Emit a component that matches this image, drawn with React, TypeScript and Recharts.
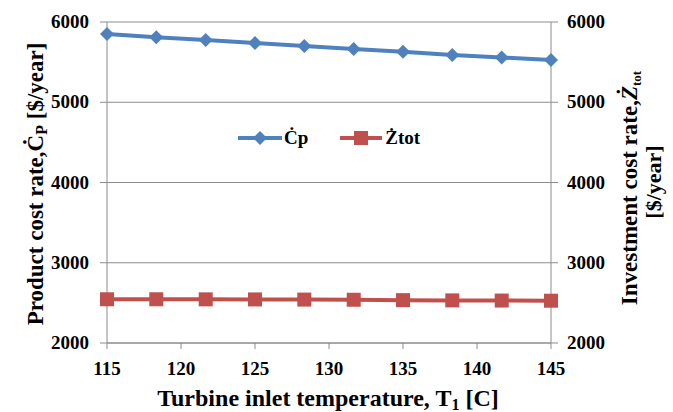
import React from 'react';
import { LineChart, Line, XAxis, YAxis, CartesianGrid, Legend } from 'recharts';

// turbine inlet temperature T1 [C], 10 runs
const temperatures = [115, 118.33, 121.67, 125, 128.33, 131.67, 135, 138.33, 141.67, 145];
// product cost rate Cp [$/year]
const productCost = [5850, 5810, 5775, 5737, 5700, 5665, 5628, 5590, 5558, 5525];
// investment cost rate Ztot [$/year]
const investmentCost = [2545, 2545, 2544, 2543, 2541, 2539, 2534, 2531, 2529, 2527];

const xTicks = [115, 120, 125, 130, 135, 140, 145];
const yTicks = [2000, 3000, 4000, 5000, 6000];

const data = temperatures.map((t, i) => ({ t, cp: productCost[i], ztot: investmentCost[i] }));

const FONT = "'Liberation Serif'";
const BLUE = '#4F81BD';
const RED = '#C0504D';
const AXIS = '#8C8C8C';

const txt = { fontFamily: FONT, fontWeight: 700 };

const Diamond = (props: any) => {
  const { cx, cy } = props;
  if (cx == null || cy == null) return null;
  const r = 7;
  return <polygon points={`${cx},${cy - r} ${cx + r},${cy} ${cx},${cy + r} ${cx - r},${cy}`} fill={BLUE} />;
};

const Square = (props: any) => {
  const { cx, cy } = props;
  if (cx == null || cy == null) return null;
  return <rect x={cx - 7} y={cy - 7} width={14} height={14} fill={RED} />;
};

const XTick = (props: any) => {
  const { x, y, payload } = props;
  return (
    <text x={x} y={y + 20} textAnchor="middle" fill="#000" fontSize={19} style={txt}>
      {payload.value}
    </text>
  );
};

const LeftTick = (props: any) => {
  const { x, y, payload } = props;
  return (
    <text x={x + 1} y={y + 6} textAnchor="end" fill="#000" fontSize={19} style={txt}>
      {payload.value}
    </text>
  );
};

const RightTick = (props: any) => {
  const { x, y, payload } = props;
  return (
    <text x={x} y={y + 6} textAnchor="start" fill="#000" fontSize={19} style={txt}>
      {payload.value}
    </text>
  );
};

const LegendContent = () => (
  <div style={{ display: 'flex', alignItems: 'center', fontSize: 19, ...txt }}>
    <svg width={44} height={16}>
      <line x1={0} y1={8} x2={44} y2={8} stroke={BLUE} strokeWidth={4} />
      <polygon points="22,1 29,8 22,15 15,8" fill={BLUE} />
    </svg>
    <span style={{ marginLeft: 2, marginRight: 32 }}>Ċp</span>
    <svg width={42} height={16}>
      <line x1={0} y1={8} x2={42} y2={8} stroke={RED} strokeWidth={4} />
      <rect x={14} y={1} width={14} height={14} fill={RED} />
    </svg>
    <span style={{ marginLeft: 3 }}>Żtot</span>
  </div>
);

export default function App() {
  return (
    <div style={{ position: 'absolute', left: 0, top: 0, background: '#fff' }}>
      <LineChart width={673} height={412} data={data} margin={{ top: 22, right: 0, left: 0, bottom: 0 }}>
        <CartesianGrid yAxisId="left" vertical={false} stroke={AXIS} strokeWidth={1} />
        <XAxis
          dataKey="t"
          type="number"
          domain={[115, 145]}
          ticks={xTicks}
          height={69}
          tickSize={6}
          tickMargin={6}
          stroke={AXIS}
          tick={<XTick />}
          label={{
            content: () => (
              <text x={328} y={406} textAnchor="middle" fontSize={24} fill="#000" style={txt}>
                Turbine inlet temperature, T<tspan fontSize={16} dy={4}>1</tspan>
                <tspan dy={-4}> [C]</tspan>
              </text>
            ),
          }}
        />
        <YAxis
          yAxisId="left"
          orientation="left"
          domain={[2000, 6000]}
          ticks={yTicks}
          width={107}
          tickSize={7}
          tickMargin={12}
          stroke={AXIS}
          tick={<LeftTick />}
          label={{
            content: () => (
              <text transform="translate(43,184) rotate(-90)" textAnchor="middle" fontSize={23} fill="#000" style={txt}>
                Product cost rate,Ċ<tspan fontSize={16} dy={4}>P</tspan>
                <tspan dy={-4}> [$/year]</tspan>
              </text>
            ),
          }}
        />
        <YAxis
          yAxisId="right"
          orientation="right"
          domain={[2000, 6000]}
          ticks={yTicks}
          width={122}
          tickSize={7}
          tickMargin={9}
          stroke={AXIS}
          tick={<RightTick />}
          label={{
            content: () => (
              <g>
                <text transform="translate(637,188) rotate(-90)" textAnchor="middle" fontSize={23} fill="#000" style={txt}>
                  Investment cost rate,<tspan fontStyle="italic">Ż</tspan>
                  <tspan fontSize={13} dy={4}>tot</tspan>
                </text>
                <text transform="translate(661,182) rotate(-90)" textAnchor="middle" fontSize={22} fill="#000" style={txt}>
                  [$/year]
                </text>
              </g>
            ),
          }}
        />
        <Legend
          layout="horizontal"
          verticalAlign="middle"
          align="center"
          content={<LegendContent />}
          wrapperStyle={{ left: 238, top: 127, width: 200 }}
        />
        <Line
          yAxisId="left"
          dataKey="cp"
          name="Ċp"
          stroke={BLUE}
          strokeWidth={4}
          dot={<Diamond />}
          activeDot={false}
          isAnimationActive={false}
        />
        <Line
          yAxisId="right"
          dataKey="ztot"
          name="Żtot"
          stroke={RED}
          strokeWidth={4}
          dot={<Square />}
          activeDot={false}
          isAnimationActive={false}
        />
      </LineChart>
    </div>
  );
}
